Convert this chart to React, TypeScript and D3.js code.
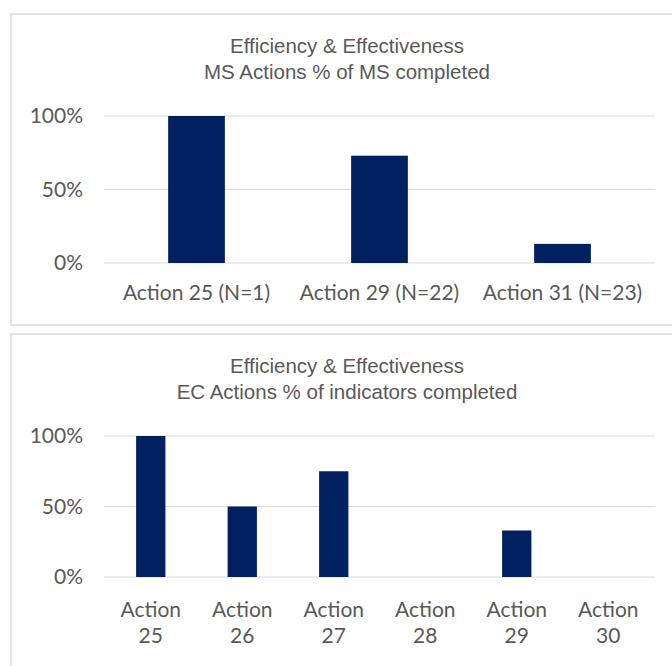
import React, { useEffect, useRef } from "react";
import * as d3 from "d3";

// top chart: MS actions
const msCategories = ["Action 25 (N=1)", "Action 29 (N=22)", "Action 31 (N=23)"];
const msValues = [1.0, 0.73, 0.13];
const msTitle = ["Efficiency & Effectiveness", "MS Actions % of MS completed"];

// bottom chart: EC actions
const ecCategories = ["Action 25", "Action 26", "Action 27", "Action 28", "Action 29", "Action 30"];
const ecValues = [1.0, 0.5, 0.75, 0, 0.33, 0];
const ecTitle = ["Efficiency & Effectiveness", "EC Actions % of indicators completed"];

const yTicks = [0, 0.5, 1];

const BAR = "#002060";
const TEXT = "#595959";
const GRID = "#d9d9d9";
const LABEL_FONT = "Lato, 'Open Sans', sans-serif";
const TITLE_FONT = "'Liberation Sans', Arial, sans-serif";

const App = () => {
  const ref = useRef<SVGSVGElement>(null);

  useEffect(() => {
    const svg = d3.select(ref.current);
    svg.selectAll("*").remove();

    const width = 672;
    const height = 666;
    svg.attr("width", width).attr("height", height);

    const drawPanel = (opts: {
      top: number; bottom: number; title: string[]; titleY: number;
      cats: string[]; vals: number[]; y0: number; y1: number; pad: number;
      wrap: boolean; labelY: number;
    }) => {
      const g = svg.append("g");

      // chart box
      g.append("rect")
        .attr("x", 11)
        .attr("y", opts.top)
        .attr("width", 700)
        .attr("height", opts.bottom - opts.top)
        .attr("fill", "#fff")
        .attr("stroke", "#e4e4e4")
        .attr("stroke-width", 2);

      g.selectAll("text.title")
        .data(opts.title)
        .enter()
        .append("text")
        .attr("x", 347)
        .attr("y", (d, i) => opts.titleY + i * 26)
        .attr("text-anchor", "middle")
        .attr("font-family", TITLE_FONT)
        .attr("font-size", 20.5)
        .attr("fill", TEXT)
        .text(d => d);

      const x = d3.scaleBand()
        .domain(opts.cats)
        .range([105, 654])
        .paddingInner(opts.pad)
        .paddingOuter(opts.pad / 2);

      const y = d3.scaleLinear().domain([0, 1]).range([opts.y0, opts.y1]);

      // gridlines
      g.selectAll("line.grid")
        .data(yTicks)
        .enter()
        .append("line")
        .attr("x1", 104)
        .attr("x2", 655)
        .attr("y1", d => y(d))
        .attr("y2", d => y(d))
        .attr("stroke", GRID)
        .attr("stroke-width", 1.2);

      g.selectAll("text.tick")
        .data(yTicks)
        .enter()
        .append("text")
        .attr("x", 83)
        .attr("y", d => y(d))
        .attr("dy", "0.35em")
        .attr("text-anchor", "end")
        .attr("font-family", LABEL_FONT)
        .attr("font-size", 21)
        .attr("fill", TEXT)
        .text(d => d3.format(".0%")(d));

      g.selectAll("rect.bar")
        .data(opts.vals)
        .enter()
        .append("rect")
        .attr("x", (d, i) => x(opts.cats[i]))
        .attr("y", d => y(d))
        .attr("width", x.bandwidth())
        .attr("height", d => y(0) - y(d))
        .attr("fill", BAR);

      const labels = g.selectAll("text.cat")
        .data(opts.cats)
        .enter()
        .append("text")
        .attr("x", d => x(d) + x.bandwidth() / 2)
        .attr("y", opts.labelY)
        .attr("text-anchor", "middle")
        .attr("font-family", LABEL_FONT)
        .attr("font-size", 21)
        .attr("fill", TEXT);

      if (opts.wrap) {
        labels.each(function (d) {
          const parts = d.split(" ");
          d3.select(this).selectAll("tspan")
            .data(parts)
            .enter()
            .append("tspan")
            .attr("x", x(d) + x.bandwidth() / 2)
            .attr("dy", (p, i) => (i === 0 ? 0 : 26))
            .text(p => p);
        });
      } else {
        labels.text(d => d);
      }
    };

    drawPanel({
      top: 14, bottom: 325, title: msTitle, titleY: 53,
      cats: msCategories, vals: msValues, y0: 263, y1: 116, pad: 0.69,
      wrap: false, labelY: 300,
    });

    drawPanel({
      top: 334, bottom: 700, title: ecTitle, titleY: 373,
      cats: ecCategories, vals: ecValues, y0: 577, y1: 436, pad: 0.68,
      wrap: true, labelY: 617,
    });
  }, []);

  return <svg ref={ref} style={{ position: "absolute", left: 0, top: 0, background: "#fff" }}></svg>;
};

export default App;
